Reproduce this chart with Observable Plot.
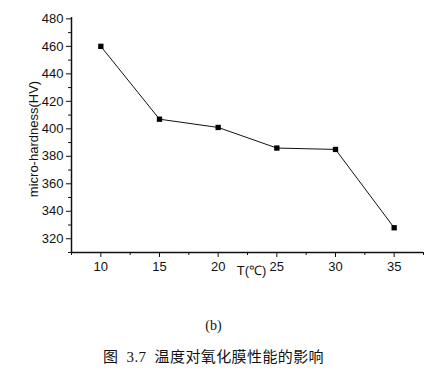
<!DOCTYPE html>
<html>
<head>
<meta charset="utf-8">
<script src="https://cdn.jsdelivr.net/npm/d3@7"></script>
<script src="https://cdn.jsdelivr.net/npm/@observablehq/plot@0.6"></script>
<style>
  html, body { margin: 0; padding: 0; background: #fff; }
  #chart { width: 433px; }
  .sub { font-family: "Liberation Serif", "Times New Roman", serif; font-size: 14px; text-align: center; color: #111; line-height: 16px; }
  .cap { font-family: "Liberation Serif", "Noto Sans CJK SC", serif; font-size: 15px; text-align: center; color: #111; word-spacing: 4px; letter-spacing: 0.4px; line-height: 18px; }
</style>
</head>
<body>
<div id="chart"></div>
<script>
const temperature = [10, 15, 20, 25, 30, 35];
const hardness = [460, 407, 401, 386, 385, 328];
const xMajorTicks = [10, 15, 20, 25, 30, 35];
const xMinorTicks = [7.5, 12.5, 17.5, 22.5, 27.5, 32.5, 37.5];
const yMajorTicks = [320, 340, 360, 380, 400, 420, 440, 460, 480];
const yMinorTicks = [310, 330, 350, 370, 390, 410, 430, 450, 470];
const xLabel = "T(℃)";
const yLabel = "micro-hardness(HV)";
const subLabel = "(b)";
const caption = "图 3.7 温度对氧化膜性能的影响";

const data = temperature.map((t, i) => ({t, h: hardness[i]}));

const chart = Plot.plot({
  width: 433,
  height: 290,
  marginLeft: 71,
  marginRight: 10,
  marginTop: 17,
  marginBottom: 38,
  style: {fontFamily: "'Liberation Sans', Arial, sans-serif", fontSize: "13px", color: "#111", background: "#fff"},
  x: {domain: [7.5, 37.5]},
  y: {domain: [310, 481]},
  marks: [
    Plot.axisX({ticks: xMajorTicks, tickSize: 5, tickPadding: 4, label: null, stroke: "#111", fill: "#111", fontSize: 13}),
    Plot.axisX({ticks: xMinorTicks, tickSize: 3, tickFormat: () => "", label: null, stroke: "#111"}),
    Plot.axisY({ticks: yMajorTicks, tickSize: 5, tickPadding: 3, label: null, stroke: "#111", fill: "#111", fontSize: 13}),
    Plot.axisY({ticks: yMinorTicks, tickSize: 3, tickFormat: () => "", label: null, stroke: "#111"}),
    Plot.ruleY([310], {stroke: "#111", strokeWidth: 1.5}),
    Plot.ruleX([7.5], {stroke: "#111", strokeWidth: 1.5}),
    Plot.line(data, {x: "t", y: "h", stroke: "#111", strokeWidth: 1}),
    Plot.dot(data, {x: "t", y: "h", symbol: "square", r: 3, fill: "#000", stroke: "none"}),
    Plot.text([xLabel], {text: d => d, frameAnchor: "bottom", dy: 22, dx: 4, fontSize: 13, fill: "#111"}),
    Plot.text([yLabel], {text: d => d, frameAnchor: "left", textAnchor: "middle", rotate: -90, dx: -38, dy: 4, fontSize: 13, fill: "#111"})
  ]
});
document.getElementById("chart").appendChild(chart);

const s = document.createElement("div");
s.className = "sub";
s.style.marginTop = "28px";
s.style.paddingRight = "6px";
s.textContent = subLabel;
document.body.appendChild(s);
const c = document.createElement("div");
c.className = "cap";
c.style.marginTop = "14px";
c.style.paddingRight = "6px";
c.textContent = caption;
document.body.appendChild(c);
</script>
</body>
</html>
